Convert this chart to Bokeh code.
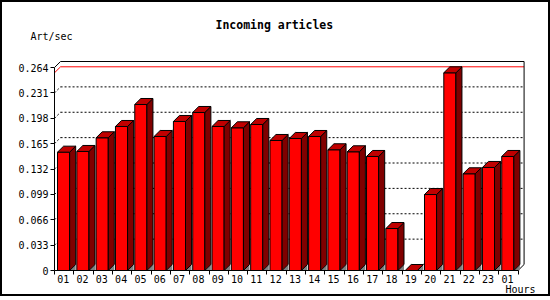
from bokeh.plotting import figure
from bokeh.models import Range1d, FixedTicker, Title
from bokeh.embed import file_html
from bokeh.resources import INLINE

# ---------------- data ----------------
hours = ["01", "02", "03", "04", "05", "06", "07", "08", "09", "10", "11", "12",
         "13", "14", "15", "16", "17", "18", "19", "20", "21", "22", "23", "01"]
articles_per_sec = [0.1539, 0.1548, 0.1726, 0.1873, 0.2159, 0.1743, 0.1938, 0.2055,
                    0.1873, 0.1856, 0.1899, 0.1691, 0.1717, 0.1743, 0.1570, 0.1544,
                    0.1483, 0.0546, 0.0, 0.0988, 0.2571, 0.1258, 0.1340, 0.1483]
y_ticks = [0, 0.033, 0.066, 0.099, 0.132, 0.165, 0.198, 0.231, 0.264]
y_tick_labels = ["0", "0.033", "0.066", "0.099", "0.132", "0.165", "0.198", "0.231", "0.264"]
title_text = "Incoming articles"
y_unit_text = "Art/sec"
x_unit_text = "Hours"

# ---------------- geometry (pixels) ----------------
BORDER = 2
INNER_W, INNER_H = 546, 296
LEFT, TOP = 52, 57
FRAME_W, FRAME_H = 468, 211
PX_CAT = 19.15
PX_VAL = 203 / 0.264
DEPTH = 6
BAR_OFF, BAR_W = 3, 12
LABEL_POS = 0.45

n = len(hours)
x_end = FRAME_W / PX_CAT
y_end = FRAME_H / PX_VAL
ddx = DEPTH / PX_CAT
ddy = DEPTH / PX_VAL
top_val = y_ticks[-1]

FONT = "DejaVu Sans Mono"

p = figure(width=INNER_W + 2 * BORDER, height=INNER_H, output_backend="svg",
           toolbar_location=None,
           x_range=Range1d(0, x_end), y_range=Range1d(0, y_end),
           min_border_left=LEFT, min_border_top=TOP,
           min_border_right=INNER_W - LEFT - FRAME_W,
           min_border_bottom=INNER_H - TOP - FRAME_H,
           background_fill_color="white", border_fill_color="white")
p.styles = {"border": "2px solid black"}
p.xgrid.visible = False
p.ygrid.visible = False
p.outline_line_color = None

# ---------------- texts around the chart ----------------
p.add_layout(Title(text=y_unit_text, align="left", offset=28 - LEFT,
                   vertical_align="bottom", standoff=35, text_font=FONT,
                   text_font_style="normal", text_font_size="10px",
                   text_color="black"), "above")
p.add_layout(Title(text=title_text, align="left", offset=213 - LEFT,
                   vertical_align="bottom", standoff=-41, text_font=FONT,
                   text_font_style="bold", text_font_size="11.5px",
                   text_color="black"), "above")
p.add_layout(Title(text=x_unit_text, align="left", offset=503 - LEFT,
                   vertical_align="bottom", standoff=-8, text_font=FONT,
                   text_font_style="normal", text_font_size="10px",
                   text_color="black"), "below")

# ---------------- axes ----------------
yax = p.yaxis[0]
yax.ticker = FixedTicker(ticks=y_ticks, minor_ticks=[])
yax.major_label_overrides = {t: l for t, l in zip(y_ticks, y_tick_labels)}
yax.bounds = (0, top_val)
yax.major_tick_out = 4
yax.major_tick_in = 0
yax.minor_tick_out = 0
yax.minor_tick_in = 0
yax.major_label_standoff = 2
yax.major_label_text_font = FONT
yax.major_label_text_font_size = "10px"
yax.major_label_text_color = "black"
yax.axis_line_color = "black"
yax.major_tick_line_color = "black"

centers = [i + LABEL_POS for i in range(n)]
xax = p.xaxis[0]
xax.ticker = FixedTicker(ticks=centers, minor_ticks=list(range(n + 1)))
xax.major_label_overrides = {c: h for c, h in zip(centers, hours)}
xax.bounds = (0, n)
xax.major_tick_out = 0
xax.major_tick_in = 0
xax.minor_tick_out = 4
xax.minor_tick_in = 0
xax.minor_tick_line_color = "black"
xax.major_label_standoff = 0
xax.major_label_text_font = FONT
xax.major_label_text_font_size = "10px"
xax.major_label_text_color = "black"
xax.axis_line_color = "black"

# ---------------- back wall grid ----------------
grid_vals = y_ticks[1:-1]
p.multi_line(xs=[[ddx, n + ddx] for _ in grid_vals],
             ys=[[v + ddy, v + ddy] for v in grid_vals],
             line_color="black", line_width=1, line_dash="2 2")
p.multi_line(xs=[[0, ddx] for _ in grid_vals],
             ys=[[v, v + ddy] for v in grid_vals],
             line_color="black", line_width=1, line_dash="2 2")

# max line (red)
vmax = max(articles_per_sec)
p.multi_line(xs=[[ddx, n + ddx], [0, ddx]],
             ys=[[vmax + ddy, vmax + ddy], [vmax, vmax + ddy]],
             line_color="#ff0000", line_width=1)

# frame of the 3D box
p.multi_line(xs=[[0, ddx, n + ddx, n + ddx, n]],
             ys=[[top_val, top_val + ddy, top_val + ddy, ddy, 0]],
             line_color="black", line_width=1)

# ---------------- bars ----------------
off = BAR_OFF / PX_CAT
bw = BAR_W / PX_CAT
lefts = [i + off for i in range(n)]
rights = [l + bw for l in lefts]

p.patches(xs=[[r, r + ddx, r + ddx] for r in rights],
          ys=[[0, ddy, 0] for _ in rights],
          fill_color="#808080", line_color=None)
p.quad(left=lefts, right=rights, bottom=0, top=articles_per_sec,
       fill_color="#ff0000", line_color="black", line_width=1)
p.patches(xs=[[r, r, r + ddx, r + ddx] for r in rights],
          ys=[[0, v, v + ddy, ddy] for v in articles_per_sec],
          fill_color="#800000", line_color="black", line_width=1)
p.patches(xs=[[l, r, r + ddx, l + ddx] for l, r in zip(lefts, rights)],
          ys=[[v, v, v + ddy, v + ddy] for v in articles_per_sec],
          fill_color="#c00000", line_color="black", line_width=1)

open("out.html", "w").write(file_html(p, INLINE))
